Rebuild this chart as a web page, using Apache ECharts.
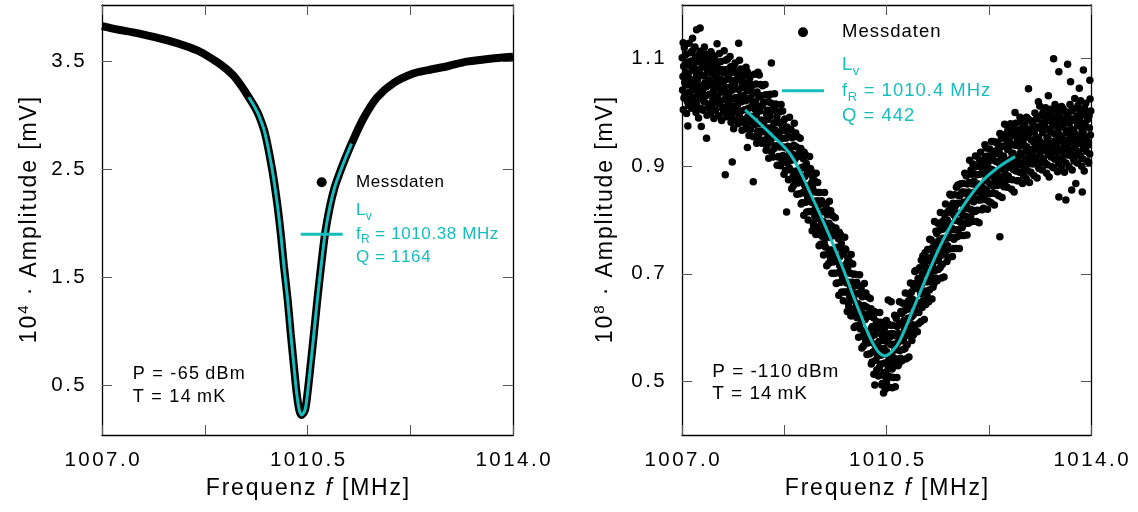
<!DOCTYPE html>
<html><head><meta charset="utf-8">
<script src="https://cdn.jsdelivr.net/npm/echarts@6/dist/echarts.min.js"></script>
<style>html,body{margin:0;padding:0;background:#fff}#c{width:1138px;height:512px}</style>
</head><body><div id="c"></div>
<script>
// ---------- data ----------
const xRange = [1007.0, 1014.0];
const xLabelValues = [1007.0, 1010.5, 1014.0];
const xTickValues = [1007.0, 1008.75, 1010.5, 1012.25, 1014.0];
const yLeftRange = [0.036, 4.026];
const yLeftTicks = [0.5, 1.5, 2.5, 3.5];
const yRightRange = [0.4, 1.2];
const yRightTicks = [0.5, 0.7, 0.9, 1.1];

const leftData = [[1007.00,3.83],[1007.25,3.80],[1007.53,3.772],[1007.80,3.74],[1008.10,3.70],[1008.40,3.65],[1008.67,3.592],[1008.95,3.50],[1009.10,3.44],[1009.24,3.37],[1009.38,3.27],[1009.50,3.17],[1009.60,3.08],[1009.68,2.99],[1009.776,2.835],[1009.89,2.525],[1009.976,2.216],[1010.044,1.907],[1010.10,1.597],[1010.163,1.288],[1010.214,0.98],[1010.27,0.67],[1010.316,0.423],[1010.36,0.268],[1010.40,0.222],[1010.458,0.268],[1010.50,0.423],[1010.55,0.67],[1010.61,0.98],[1010.667,1.288],[1010.73,1.597],[1010.80,1.907],[1010.88,2.15],[1010.96,2.33],[1011.05,2.47],[1011.15,2.61],[1011.25,2.74],[1011.45,2.97],[1011.68,3.165],[1011.96,3.30],[1012.30,3.39],[1012.56,3.422],[1012.90,3.46],[1013.21,3.50],[1013.50,3.52],[1013.78,3.536],[1014.00,3.545]];

const leftFit = [[1009.50,3.17],[1009.60,3.08],[1009.68,2.99],[1009.776,2.835],[1009.89,2.525],[1009.976,2.216],[1010.044,1.907],[1010.10,1.597],[1010.163,1.288],[1010.214,0.98],[1010.27,0.67],[1010.316,0.423],[1010.36,0.268],[1010.40,0.222],[1010.458,0.268],[1010.50,0.423],[1010.55,0.67],[1010.61,0.98],[1010.667,1.288],[1010.73,1.597],[1010.80,1.907],[1010.88,2.15],[1010.96,2.33],[1011.05,2.47],[1011.15,2.61],[1011.25,2.74]];

const rightData = [
[1007.004,1.102],[1007.010,1.042],[1007.016,1.067],[1007.022,1.005],[1007.028,1.086],[1007.034,1.027],[1007.040,1.121],[1007.046,1.056],
[1007.054,1.033],[1007.060,1.075],[1007.066,1.108],[1007.072,1.051],[1007.078,0.998],[1007.084,1.093],[1007.090,1.062],[1007.096,1.020],
[1007.104,1.070],[1007.110,1.013],[1007.116,1.088],[1007.122,1.129],[1007.128,1.038],[1007.134,1.062],[1007.140,1.024],[1007.146,1.111],
[1007.154,1.051],[1007.160,1.096],[1007.166,1.008],[1007.172,1.078],[1007.178,1.115],[1007.184,1.029],[1007.190,1.045],[1007.196,1.083],
[1007.204,1.089],[1007.210,1.055],[1007.216,1.019],[1007.222,1.122],[1007.228,1.042],[1007.234,1.103],[1007.240,1.000],[1007.246,1.067],
[1007.254,1.013],[1007.260,1.079],[1007.266,1.062],[1007.272,1.032],[1007.278,1.095],[1007.284,0.990],[1007.290,1.107],[1007.296,1.046],
[1007.304,1.073],[1007.310,1.114],[1007.316,1.025],[1007.322,1.050],[1007.328,1.097],[1007.334,1.007],[1007.340,1.084],[1007.346,1.036],
[1007.354,1.041],[1007.360,1.004],[1007.366,1.091],[1007.372,1.068],[1007.378,1.020],[1007.384,1.122],[1007.390,1.055],[1007.396,1.100],
[1007.404,1.109],[1007.410,1.031],[1007.416,1.048],[1007.422,1.085],[1007.428,0.995],[1007.434,1.075],[1007.440,1.094],[1007.446,1.010],
[1007.454,1.016],[1007.460,1.061],[1007.466,1.099],[1007.472,1.034],[1007.478,1.078],[1007.484,1.051],[1007.490,0.999],[1007.496,1.113],
[1007.504,1.055],[1007.510,1.011],[1007.516,1.073],[1007.522,1.107],[1007.528,1.024],[1007.534,1.088],[1007.540,1.040],[1007.546,0.989],
[1007.554,1.078],[1007.560,1.100],[1007.566,1.029],[1007.572,1.004],[1007.578,1.064],[1007.584,1.046],[1007.590,1.085],[1007.596,1.019],
[1007.604,1.091],[1007.610,1.031],[1007.616,1.056],[1007.622,0.994],[1007.628,1.075],[1007.634,1.016],[1007.640,1.110],[1007.646,1.045],
[1007.654,1.020],[1007.660,1.062],[1007.666,1.095],[1007.672,1.038],[1007.678,0.985],[1007.684,1.080],[1007.690,1.049],[1007.696,1.007],
[1007.704,1.056],[1007.710,0.999],[1007.716,1.074],[1007.722,1.115],[1007.728,1.024],[1007.734,1.048],[1007.740,1.010],[1007.746,1.097],
[1007.754,1.035],[1007.760,1.080],[1007.766,0.992],[1007.772,1.062],[1007.778,1.099],[1007.784,1.013],[1007.790,1.029],[1007.796,1.067],
[1007.804,1.071],[1007.810,1.037],[1007.816,1.001],[1007.822,1.104],[1007.828,1.024],[1007.834,1.085],[1007.840,0.982],[1007.846,1.049],
[1007.854,0.993],[1007.860,1.059],[1007.866,1.042],[1007.872,1.012],[1007.878,1.075],[1007.884,0.970],[1007.890,1.087],[1007.896,1.026],
[1007.904,1.051],[1007.910,1.092],[1007.916,1.003],[1007.922,1.028],[1007.928,1.075],[1007.934,0.985],[1007.940,1.062],[1007.946,1.014],
[1007.954,1.016],[1007.960,0.979],[1007.966,1.066],[1007.972,1.043],[1007.978,0.995],[1007.984,1.097],[1007.990,1.030],[1007.996,1.075],
[1008.004,1.081],[1008.010,1.003],[1008.016,1.020],[1008.022,1.057],[1008.028,0.967],[1008.034,1.047],[1008.040,1.066],[1008.046,0.982],
[1008.054,0.987],[1008.060,1.032],[1008.066,1.070],[1008.072,1.005],[1008.078,1.049],[1008.084,1.022],[1008.090,0.970],[1008.096,1.084],
[1008.104,1.023],[1008.110,0.979],[1008.116,1.041],[1008.122,1.075],[1008.128,0.992],[1008.134,1.056],[1008.140,1.008],[1008.146,0.957],
[1008.154,1.042],[1008.160,1.064],[1008.166,0.993],[1008.172,0.968],[1008.178,1.028],[1008.184,1.010],[1008.190,1.049],[1008.196,0.983],
[1008.204,1.052],[1008.210,0.992],[1008.216,1.017],[1008.222,0.955],[1008.228,1.036],[1008.234,0.977],[1008.240,1.071],[1008.246,1.006],
[1008.254,0.978],[1008.260,1.020],[1008.266,1.053],[1008.272,0.996],[1008.278,0.943],[1008.284,1.038],[1008.290,1.007],[1008.296,0.965],
[1008.304,1.011],[1008.310,0.954],[1008.316,1.029],[1008.322,1.070],[1008.328,0.979],[1008.334,1.003],[1008.340,0.965],[1008.346,1.052],
[1008.354,0.986],[1008.360,1.031],[1008.366,0.943],[1008.372,1.013],[1008.378,1.050],[1008.384,0.964],[1008.390,0.980],[1008.396,1.018],
[1008.404,1.019],[1008.410,0.985],[1008.416,0.949],[1008.422,1.052],[1008.428,0.972],[1008.434,1.033],[1008.440,0.930],[1008.446,0.997],
[1008.454,0.938],[1008.460,1.004],[1008.466,0.987],[1008.472,0.957],[1008.478,1.020],[1008.484,0.915],[1008.490,1.032],[1008.496,0.971],
[1008.504,0.993],[1008.510,1.034],[1008.516,0.945],[1008.522,0.970],[1008.528,1.017],[1008.534,0.927],[1008.540,1.004],[1008.546,0.956],
[1008.554,0.954],[1008.560,0.917],[1008.566,1.004],[1008.572,0.981],[1008.578,0.933],[1008.584,1.035],[1008.590,0.968],[1008.596,1.013],
[1008.604,1.016],[1008.610,0.938],[1008.616,0.955],[1008.622,0.992],[1008.628,0.902],[1008.634,0.982],[1008.640,1.001],[1008.646,0.917],
[1008.654,0.918],[1008.660,0.963],[1008.666,1.001],[1008.672,0.936],[1008.678,0.980],[1008.684,0.953],[1008.690,0.901],[1008.696,1.015],
[1008.704,0.951],[1008.710,0.907],[1008.716,0.969],[1008.722,1.003],[1008.728,0.920],[1008.734,0.984],[1008.740,0.936],[1008.746,0.885],
[1008.754,0.966],[1008.760,0.988],[1008.766,0.917],[1008.772,0.892],[1008.778,0.952],[1008.784,0.934],[1008.790,0.973],[1008.796,0.907],
[1008.804,0.972],[1008.810,0.912],[1008.816,0.937],[1008.822,0.875],[1008.828,0.956],[1008.834,0.897],[1008.840,0.991],[1008.846,0.926],
[1008.854,0.893],[1008.860,0.935],[1008.866,0.968],[1008.872,0.911],[1008.878,0.858],[1008.884,0.953],[1008.890,0.922],[1008.896,0.880],
[1008.904,0.921],[1008.910,0.864],[1008.916,0.939],[1008.922,0.980],[1008.928,0.889],[1008.934,0.913],[1008.940,0.875],[1008.946,0.962],
[1008.954,0.891],[1008.960,0.936],[1008.966,0.848],[1008.972,0.918],[1008.978,0.955],[1008.984,0.869],[1008.990,0.885],[1008.996,0.923],
[1009.004,0.919],[1009.010,0.885],[1009.016,0.849],[1009.022,0.952],[1009.028,0.872],[1009.034,0.933],[1009.040,0.830],[1009.046,0.897],
[1009.054,0.832],[1009.060,0.898],[1009.066,0.881],[1009.072,0.851],[1009.078,0.914],[1009.084,0.809],[1009.090,0.926],[1009.096,0.865],
[1009.104,0.881],[1009.110,0.922],[1009.116,0.833],[1009.122,0.858],[1009.128,0.905],[1009.134,0.815],[1009.140,0.892],[1009.146,0.844],
[1009.154,0.837],[1009.160,0.800],[1009.166,0.887],[1009.172,0.864],[1009.178,0.816],[1009.184,0.918],[1009.190,0.851],[1009.196,0.896],
[1009.204,0.894],[1009.210,0.816],[1009.216,0.833],[1009.222,0.870],[1009.228,0.780],[1009.234,0.860],[1009.240,0.879],[1009.246,0.795],
[1009.254,0.790],[1009.260,0.835],[1009.266,0.873],[1009.272,0.808],[1009.278,0.852],[1009.284,0.825],[1009.290,0.773],[1009.296,0.887],
[1009.304,0.818],[1009.310,0.774],[1009.316,0.836],[1009.322,0.870],[1009.328,0.787],[1009.334,0.851],[1009.340,0.803],[1009.346,0.752],
[1009.354,0.829],[1009.360,0.851],[1009.366,0.780],[1009.372,0.755],[1009.378,0.815],[1009.384,0.797],[1009.390,0.836],[1009.396,0.770],
[1009.404,0.832],[1009.410,0.772],[1009.416,0.797],[1009.422,0.735],[1009.428,0.816],[1009.434,0.757],[1009.440,0.851],[1009.446,0.786],
[1009.454,0.750],[1009.460,0.792],[1009.466,0.825],[1009.472,0.768],[1009.478,0.715],[1009.484,0.810],[1009.490,0.779],[1009.496,0.737],
[1009.504,0.776],[1009.510,0.719],[1009.516,0.794],[1009.522,0.835],[1009.528,0.744],[1009.534,0.768],[1009.540,0.730],[1009.546,0.817],
[1009.554,0.744],[1009.560,0.789],[1009.566,0.701],[1009.572,0.771],[1009.578,0.808],[1009.584,0.722],[1009.590,0.738],[1009.596,0.776],
[1009.604,0.771],[1009.610,0.737],[1009.616,0.701],[1009.622,0.804],[1009.628,0.724],[1009.634,0.785],[1009.640,0.682],[1009.646,0.749],
[1009.654,0.683],[1009.660,0.749],[1009.666,0.732],[1009.672,0.702],[1009.678,0.765],[1009.684,0.660],[1009.690,0.777],[1009.696,0.716],
[1009.704,0.732],[1009.710,0.773],[1009.716,0.684],[1009.722,0.709],[1009.728,0.756],[1009.734,0.666],[1009.740,0.743],[1009.746,0.695],
[1009.754,0.687],[1009.760,0.650],[1009.766,0.737],[1009.772,0.714],[1009.778,0.666],[1009.784,0.768],[1009.790,0.701],[1009.796,0.746],
[1009.804,0.744],[1009.810,0.666],[1009.816,0.683],[1009.822,0.720],[1009.828,0.630],[1009.834,0.710],[1009.840,0.729],[1009.846,0.645],
[1009.854,0.639],[1009.860,0.684],[1009.866,0.722],[1009.872,0.657],[1009.878,0.701],[1009.884,0.674],[1009.890,0.622],[1009.896,0.736],
[1009.904,0.666],[1009.910,0.622],[1009.916,0.684],[1009.922,0.718],[1009.928,0.635],[1009.934,0.699],[1009.940,0.651],[1009.946,0.600],
[1009.954,0.677],[1009.960,0.699],[1009.966,0.628],[1009.972,0.603],[1009.978,0.663],[1009.984,0.645],[1009.990,0.684],[1009.996,0.618],
[1010.004,0.679],[1010.010,0.619],[1010.016,0.644],[1010.022,0.582],[1010.028,0.663],[1010.034,0.604],[1010.040,0.698],[1010.046,0.633],
[1010.054,0.597],[1010.060,0.639],[1010.066,0.672],[1010.072,0.615],[1010.078,0.562],[1010.084,0.657],[1010.090,0.626],[1010.096,0.584],
[1010.104,0.623],[1010.110,0.566],[1010.116,0.641],[1010.122,0.682],[1010.128,0.591],[1010.134,0.615],[1010.140,0.577],[1010.146,0.664],
[1010.154,0.593],[1010.160,0.638],[1010.166,0.550],[1010.172,0.620],[1010.178,0.657],[1010.184,0.571],[1010.190,0.587],[1010.196,0.625],
[1010.204,0.621],[1010.210,0.587],[1010.216,0.551],[1010.222,0.654],[1010.228,0.574],[1010.234,0.635],[1010.240,0.532],[1010.246,0.599],
[1010.254,0.536],[1010.260,0.602],[1010.266,0.585],[1010.272,0.555],[1010.278,0.618],[1010.284,0.513],[1010.290,0.630],[1010.296,0.569],
[1010.304,0.587],[1010.310,0.628],[1010.316,0.539],[1010.322,0.564],[1010.328,0.611],[1010.334,0.521],[1010.340,0.598],[1010.346,0.550],
[1010.354,0.547],[1010.360,0.510],[1010.366,0.597],[1010.372,0.574],[1010.378,0.526],[1010.384,0.628],[1010.390,0.561],[1010.396,0.606],
[1010.404,0.610],[1010.410,0.532],[1010.416,0.549],[1010.422,0.586],[1010.428,0.496],[1010.434,0.576],[1010.440,0.595],[1010.446,0.511],
[1010.454,0.516],[1010.460,0.561],[1010.466,0.599],[1010.472,0.534],[1010.478,0.578],[1010.484,0.551],[1010.490,0.499],[1010.496,0.613],
[1010.504,0.555],[1010.510,0.511],[1010.516,0.573],[1010.522,0.607],[1010.528,0.524],[1010.534,0.588],[1010.540,0.540],[1010.546,0.489],
[1010.554,0.582],[1010.560,0.604],[1010.566,0.533],[1010.572,0.508],[1010.578,0.568],[1010.584,0.550],[1010.590,0.589],[1010.596,0.523],
[1010.604,0.604],[1010.610,0.544],[1010.616,0.569],[1010.622,0.507],[1010.628,0.588],[1010.634,0.529],[1010.640,0.623],[1010.646,0.558],
[1010.654,0.542],[1010.660,0.584],[1010.666,0.617],[1010.672,0.560],[1010.678,0.507],[1010.684,0.602],[1010.690,0.571],[1010.696,0.529],
[1010.704,0.589],[1010.710,0.532],[1010.716,0.607],[1010.722,0.648],[1010.728,0.557],[1010.734,0.581],[1010.740,0.543],[1010.746,0.630],
[1010.754,0.581],[1010.760,0.626],[1010.766,0.538],[1010.772,0.608],[1010.778,0.645],[1010.784,0.559],[1010.790,0.575],[1010.796,0.613],
[1010.804,0.631],[1010.810,0.597],[1010.816,0.561],[1010.822,0.664],[1010.828,0.584],[1010.834,0.645],[1010.840,0.542],[1010.846,0.609],
[1010.854,0.568],[1010.860,0.634],[1010.866,0.617],[1010.872,0.587],[1010.878,0.650],[1010.884,0.545],[1010.890,0.662],[1010.896,0.601],
[1010.904,0.642],[1010.910,0.683],[1010.916,0.594],[1010.922,0.619],[1010.928,0.666],[1010.934,0.576],[1010.940,0.653],[1010.946,0.605],
[1010.954,0.623],[1010.960,0.586],[1010.966,0.673],[1010.972,0.650],[1010.978,0.602],[1010.984,0.704],[1010.990,0.637],[1010.996,0.682],
[1011.004,0.706],[1011.010,0.628],[1011.016,0.645],[1011.022,0.682],[1011.028,0.592],[1011.034,0.672],[1011.040,0.691],[1011.046,0.607],
[1011.054,0.628],[1011.060,0.673],[1011.066,0.711],[1011.072,0.646],[1011.078,0.690],[1011.084,0.663],[1011.090,0.611],[1011.096,0.725],
[1011.104,0.681],[1011.110,0.637],[1011.116,0.699],[1011.122,0.733],[1011.128,0.650],[1011.134,0.714],[1011.140,0.666],[1011.146,0.615],
[1011.154,0.717],[1011.160,0.739],[1011.166,0.668],[1011.172,0.643],[1011.178,0.703],[1011.184,0.685],[1011.190,0.724],[1011.196,0.658],
[1011.204,0.745],[1011.210,0.685],[1011.216,0.710],[1011.222,0.648],[1011.228,0.729],[1011.234,0.670],[1011.240,0.764],[1011.246,0.699],
[1011.254,0.688],[1011.260,0.730],[1011.266,0.763],[1011.272,0.706],[1011.278,0.653],[1011.284,0.748],[1011.290,0.717],[1011.296,0.675],
[1011.304,0.738],[1011.310,0.681],[1011.316,0.756],[1011.322,0.797],[1011.328,0.706],[1011.334,0.730],[1011.340,0.692],[1011.346,0.779],
[1011.354,0.730],[1011.360,0.775],[1011.366,0.687],[1011.372,0.757],[1011.378,0.794],[1011.384,0.708],[1011.390,0.724],[1011.396,0.762],
[1011.404,0.781],[1011.410,0.747],[1011.416,0.711],[1011.422,0.814],[1011.428,0.734],[1011.434,0.795],[1011.440,0.692],[1011.446,0.759],
[1011.454,0.717],[1011.460,0.783],[1011.466,0.766],[1011.472,0.736],[1011.478,0.799],[1011.484,0.694],[1011.490,0.811],[1011.496,0.750],
[1011.504,0.789],[1011.510,0.830],[1011.516,0.741],[1011.522,0.766],[1011.528,0.813],[1011.534,0.723],[1011.540,0.800],[1011.546,0.752],
[1011.554,0.767],[1011.560,0.730],[1011.566,0.817],[1011.572,0.794],[1011.578,0.746],[1011.584,0.848],[1011.590,0.781],[1011.596,0.826],
[1011.604,0.846],[1011.610,0.768],[1011.616,0.785],[1011.622,0.822],[1011.628,0.732],[1011.634,0.812],[1011.640,0.831],[1011.646,0.747],
[1011.654,0.764],[1011.660,0.809],[1011.666,0.847],[1011.672,0.782],[1011.678,0.826],[1011.684,0.799],[1011.690,0.747],[1011.696,0.861],
[1011.704,0.813],[1011.710,0.769],[1011.716,0.831],[1011.722,0.865],[1011.728,0.782],[1011.734,0.846],[1011.740,0.798],[1011.746,0.747],
[1011.754,0.845],[1011.760,0.867],[1011.766,0.796],[1011.772,0.771],[1011.778,0.831],[1011.784,0.813],[1011.790,0.852],[1011.796,0.786],
[1011.804,0.868],[1011.810,0.808],[1011.816,0.833],[1011.822,0.771],[1011.828,0.852],[1011.834,0.793],[1011.840,0.887],[1011.846,0.822],
[1011.854,0.807],[1011.860,0.849],[1011.866,0.882],[1011.872,0.825],[1011.878,0.772],[1011.884,0.867],[1011.890,0.836],[1011.896,0.794],
[1011.904,0.852],[1011.910,0.795],[1011.916,0.870],[1011.922,0.911],[1011.928,0.820],[1011.934,0.844],[1011.940,0.806],[1011.946,0.893],
[1011.954,0.840],[1011.960,0.885],[1011.966,0.797],[1011.972,0.867],[1011.978,0.904],[1011.984,0.818],[1011.990,0.834],[1011.996,0.872],
[1012.004,0.886],[1012.010,0.852],[1012.016,0.816],[1012.022,0.919],[1012.028,0.839],[1012.034,0.900],[1012.040,0.797],[1012.046,0.864],
[1012.054,0.818],[1012.060,0.884],[1012.066,0.867],[1012.072,0.837],[1012.078,0.900],[1012.084,0.795],[1012.090,0.912],[1012.096,0.851],
[1012.104,0.885],[1012.110,0.926],[1012.116,0.837],[1012.122,0.862],[1012.128,0.909],[1012.134,0.819],[1012.140,0.896],[1012.146,0.848],
[1012.154,0.859],[1012.160,0.822],[1012.166,0.909],[1012.172,0.886],[1012.178,0.838],[1012.184,0.940],[1012.190,0.873],[1012.196,0.918],
[1012.204,0.934],[1012.210,0.856],[1012.216,0.873],[1012.222,0.910],[1012.228,0.820],[1012.234,0.900],[1012.240,0.919],[1012.246,0.835],
[1012.254,0.849],[1012.260,0.894],[1012.266,0.932],[1012.272,0.867],[1012.278,0.911],[1012.284,0.884],[1012.290,0.832],[1012.296,0.946],
[1012.304,0.894],[1012.310,0.850],[1012.316,0.912],[1012.322,0.946],[1012.328,0.863],[1012.334,0.927],[1012.340,0.879],[1012.346,0.828],
[1012.354,0.923],[1012.360,0.945],[1012.366,0.874],[1012.372,0.849],[1012.378,0.909],[1012.384,0.891],[1012.390,0.930],[1012.396,0.864],
[1012.404,0.942],[1012.410,0.882],[1012.416,0.907],[1012.422,0.845],[1012.428,0.926],[1012.434,0.867],[1012.440,0.961],[1012.446,0.896],
[1012.454,0.877],[1012.460,0.919],[1012.466,0.952],[1012.472,0.895],[1012.478,0.842],[1012.484,0.937],[1012.490,0.906],[1012.496,0.864],
[1012.504,0.919],[1012.510,0.862],[1012.516,0.937],[1012.522,0.978],[1012.528,0.887],[1012.534,0.911],[1012.540,0.873],[1012.546,0.960],
[1012.554,0.904],[1012.560,0.949],[1012.566,0.861],[1012.572,0.931],[1012.578,0.968],[1012.584,0.882],[1012.590,0.898],[1012.596,0.936],
[1012.604,0.946],[1012.610,0.912],[1012.616,0.876],[1012.622,0.979],[1012.628,0.899],[1012.634,0.960],[1012.640,0.857],[1012.646,0.924],
[1012.654,0.875],[1012.660,0.941],[1012.666,0.924],[1012.672,0.894],[1012.678,0.957],[1012.684,0.852],[1012.690,0.969],[1012.696,0.908],
[1012.704,0.939],[1012.710,0.980],[1012.716,0.891],[1012.722,0.916],[1012.728,0.963],[1012.734,0.873],[1012.740,0.950],[1012.746,0.902],
[1012.754,0.910],[1012.760,0.873],[1012.766,0.960],[1012.772,0.937],[1012.778,0.889],[1012.784,0.991],[1012.790,0.924],[1012.796,0.969],
[1012.804,0.982],[1012.810,0.904],[1012.816,0.921],[1012.822,0.958],[1012.828,0.868],[1012.834,0.948],[1012.840,0.967],[1012.846,0.883],
[1012.854,0.894],[1012.860,0.939],[1012.866,0.977],[1012.872,0.912],[1012.878,0.956],[1012.884,0.929],[1012.890,0.877],[1012.896,0.991],
[1012.904,0.936],[1012.910,0.892],[1012.916,0.954],[1012.922,0.988],[1012.928,0.905],[1012.934,0.969],[1012.940,0.921],[1012.946,0.870],
[1012.954,0.963],[1012.960,0.985],[1012.966,0.914],[1012.972,0.889],[1012.978,0.949],[1012.984,0.931],[1012.990,0.970],[1012.996,0.904],
[1013.004,0.980],[1013.010,0.920],[1013.016,0.945],[1013.022,0.883],[1013.028,0.964],[1013.034,0.905],[1013.040,0.999],[1013.046,0.934],
[1013.054,0.913],[1013.060,0.955],[1013.066,0.988],[1013.072,0.931],[1013.078,0.878],[1013.084,0.973],[1013.090,0.942],[1013.096,0.900],
[1013.104,0.953],[1013.110,0.896],[1013.116,0.971],[1013.122,1.012],[1013.128,0.921],[1013.134,0.945],[1013.140,0.907],[1013.146,0.994],
[1013.154,0.936],[1013.160,0.981],[1013.166,0.893],[1013.172,0.963],[1013.178,1.000],[1013.184,0.914],[1013.190,0.930],[1013.196,0.968],
[1013.204,0.976],[1013.210,0.942],[1013.216,0.906],[1013.222,1.009],[1013.228,0.929],[1013.234,0.990],[1013.240,0.887],[1013.246,0.954],
[1013.254,0.903],[1013.260,0.969],[1013.266,0.952],[1013.272,0.922],[1013.278,0.985],[1013.284,0.880],[1013.290,0.997],[1013.296,0.936],
[1013.304,0.965],[1013.310,1.006],[1013.316,0.917],[1013.322,0.942],[1013.328,0.989],[1013.334,0.899],[1013.340,0.976],[1013.346,0.928],
[1013.354,0.934],[1013.360,0.897],[1013.366,0.984],[1013.372,0.961],[1013.378,0.913],[1013.384,1.015],[1013.390,0.948],[1013.396,0.993],
[1013.404,1.004],[1013.410,0.926],[1013.416,0.943],[1013.422,0.980],[1013.428,0.890],[1013.434,0.970],[1013.440,0.989],[1013.446,0.905],
[1013.454,0.914],[1013.460,0.959],[1013.466,0.997],[1013.472,0.932],[1013.478,0.976],[1013.484,0.949],[1013.490,0.897],[1013.496,1.011],
[1013.504,0.955],[1013.510,0.911],[1013.516,0.973],[1013.522,1.007],[1013.528,0.924],[1013.534,0.988],[1013.540,0.940],[1013.546,0.889],
[1013.554,0.980],[1013.560,1.002],[1013.566,0.931],[1013.572,0.906],[1013.578,0.966],[1013.584,0.948],[1013.590,0.987],[1013.596,0.921],
[1013.604,0.996],[1013.610,0.936],[1013.616,0.961],[1013.622,0.899],[1013.628,0.980],[1013.634,0.921],[1013.640,1.015],[1013.646,0.950],
[1013.654,0.928],[1013.660,0.970],[1013.666,1.003],[1013.672,0.946],[1013.678,0.893],[1013.684,0.988],[1013.690,0.957],[1013.696,0.915],
[1013.704,0.967],[1013.710,0.910],[1013.716,0.985],[1013.722,1.026],[1013.728,0.935],[1013.734,0.959],[1013.740,0.921],[1013.746,1.008],
[1013.754,0.949],[1013.760,0.994],[1013.766,0.906],[1013.772,0.976],[1013.778,1.013],[1013.784,0.927],[1013.790,0.943],[1013.796,0.981],
[1013.804,0.989],[1013.810,0.955],[1013.816,0.919],[1013.822,1.022],[1013.828,0.942],[1013.834,1.003],[1013.840,0.900],[1013.846,0.967],
[1013.854,0.914],[1013.860,0.980],[1013.866,0.963],[1013.872,0.933],[1013.878,0.996],[1013.884,0.891],[1013.890,1.008],[1013.896,0.947],
[1013.904,0.976],[1013.910,1.017],[1013.916,0.928],[1013.922,0.953],[1013.928,1.000],[1013.934,0.910],[1013.940,0.987],[1013.946,0.939],
[1013.954,0.944],[1013.960,0.907],[1013.966,0.994],[1013.972,0.971],[1013.978,0.923],[1013.984,1.025],[1013.990,0.958],[1013.996,1.003],
[1007.25,1.154],[1007.31,1.157],[1007.97,1.129],[1008.53,1.092],[1007.74,0.884],[1008.22,0.871],[1007.86,0.908],[1007.42,0.952],
[1007.33,0.974],[1007.02,1.130],[1007.18,1.138],[1007.60,1.128],[1007.10,0.975],[1008.30,1.075],[1008.12,0.935],[1008.79,0.815],
[1010.30,0.493],[1010.42,0.493],[1010.50,0.500],[1010.48,0.485],[1010.60,0.488],[1010.65,0.490],[1010.52,0.510],[1010.45,0.478],
[1010.53,0.651],[1010.58,0.648],[1012.44,0.769],[1013.67,0.856],
[1013.36,1.100],[1013.60,1.090],[1013.87,1.079],[1013.45,1.076],[1013.65,1.057],[1012.93,1.044],[1013.27,1.031],[1013.10,1.020],
[1013.57,0.837],[1013.74,0.868],[1013.85,0.852],[1013.45,0.843],[1013.98,1.060],[1013.80,1.045],[1012.70,1.000]
];

const rightFit = [[1008.08,1.005],[1008.50,0.962],[1008.88,0.918],[1009.25,0.837],[1009.43,0.794],[1009.70,0.725],[1010.05,0.626],[1010.30,0.564],[1010.47,0.547],[1010.60,0.556],[1010.73,0.576],[1011.02,0.651],[1011.36,0.738],[1011.62,0.794],[1011.76,0.818],[1012.10,0.868],[1012.40,0.897],[1012.70,0.918]];

const xName = ['Frequenz ', 'f', ' [MHz]'];
const yName = ['10', ' · Amplitude [mV]'];
const legendLeft = ['L', 'v', 'f', 'R', ' = 1010.38 MHz', 'Q = 1164'];
const legendRight = ['L', 'v', 'f', 'R', ' = 1010.4 MHz', 'Q = 442'];
const condLeft = 'P = -65\u2009dBm\nT = 14\u2009mK';
const condRight = 'P = -110\u2009dBm\nT = 14\u2009mK';

// ---------- styling ----------
const FONT = 'Liberation Sans, Arial, Helvetica, sans-serif';
const CYAN = '#17bcbd';
// wrap each character in a rich token so that letter spacing can be applied
function tr(str, style) {
  return str.split('').map(ch => ch === '\n' ? '\n' : '{' + style + '|' + ch + '}').join('');
}
function trStyle(fs, track, color, extra) {
  return Object.assign({fontSize: fs, fontFamily: FONT, color: color || '#000', padding: [0, track / 2, 0, track / 2]}, extra || {});
}
const chart = echarts.init(document.getElementById('c'), null, {renderer: 'canvas'});

function xAxes(g) {
  const common = {gridIndex: g, type: 'value', min: xRange[0], max: xRange[1],
    axisLine: {show: true, onZero: false, lineStyle: {color: '#000', width: 1.3}},
    axisTick: {show: true, inside: true, length: 10, customValues: xTickValues, lineStyle: {color: '#555', width: 1}},
    splitLine: {show: false}};
  return [
    Object.assign({}, common, {position: 'bottom',
      axisLabel: {customValues: xLabelValues, formatter: v => tr(v.toFixed(1), 't'), margin: 15,
        rich: {t: trStyle(20.5, 2.5)}},
      name: tr(xName[0], 'n') + '{i|' + xName[1] + '}' + tr(xName[2], 'n'), nameLocation: 'middle', nameGap: 42,
      nameTextStyle: {rich: {n: trStyle(23, 1.8), i: trStyle(23, 1.8, '#000', {fontStyle: 'italic'})}}}),
    Object.assign({}, common, {position: 'top', axisLabel: {show: false}})
  ];
}
function yAxes(g, range, ticks, exp, gap) {
  const common = {gridIndex: g, type: 'value', min: range[0], max: range[1],
    axisLine: {show: true, onZero: false, lineStyle: {color: '#000', width: 1.3}},
    axisTick: {show: true, inside: true, length: 10, customValues: ticks, lineStyle: {color: '#555', width: 1}},
    splitLine: {show: false}};
  return [
    Object.assign({}, common, {position: 'left',
      axisLabel: {customValues: ticks, formatter: v => tr(v.toFixed(1), 't'), margin: 16,
        rich: {t: trStyle(20.5, 2.5)}},
      name: tr(yName[0], 'n') + '{s|' + exp + '}' + tr(yName[1], 'n'), nameLocation: 'middle', nameGap: gap, nameRotate: 90,
      nameTextStyle: {rich: {n: trStyle(23, 1.9, '#000', {lineHeight: 28}),
                             s: {fontSize: 15, lineHeight: 16, verticalAlign: 'top', fontFamily: FONT, color: '#000', padding: [0, 1, 0, 1]}}}}),
    Object.assign({}, common, {position: 'right', axisLabel: {show: false}})
  ];
}

function fitText(p) {
  return tr(p[0], 'c') + '{s|' + p[1] + '}\n' + tr(p[2], 'c') + '{s|' + p[3] + '}' + tr(p[4], 'c') + '\n' + tr(p[5], 'c');
}
function legendPair(dotLeft, dotTop, fitLeft, fitTop, fitName, parts, pad, fs, lh, track) {
  const richFit = {c: trStyle(fs, track, CYAN, {lineHeight: lh}),
                   s: {color: CYAN, fontSize: Math.round(fs * 0.72), lineHeight: Math.round(fs * 0.75), verticalAlign: 'bottom', fontFamily: FONT}};
  const richDot = {m: trStyle(fs, track, '#000', {lineHeight: lh})};
  return [
    {show: true, selectedMode: false, padding: 0, left: dotLeft, top: dotTop, itemWidth: 42, itemHeight: 10,
     itemStyle: {borderWidth: 0}, data: [{name: 'Messdaten', icon: 'circle'}],
     formatter: name => tr(name, 'm'),
     textStyle: {color: '#000', fontSize: fs, lineHeight: lh, fontFamily: FONT, padding: [0, 0, 0, pad], rich: richDot}},
    {show: true, selectedMode: false, padding: 0, left: fitLeft, top: fitTop, itemWidth: 42, itemHeight: 3,
     itemStyle: {borderWidth: 0}, data: [{name: fitName, icon: 'rect'}],
     formatter: () => fitText(parts),
     textStyle: {color: CYAN, fontSize: fs, lineHeight: lh, fontFamily: FONT, padding: [0, 0, 0, pad], rich: richFit}}
  ];
}

const option = {
  animation: false,
  backgroundColor: '#fff',
  grid: [
    {left: 102, top: 5, width: 411, height: 430},
    {left: 682, top: 5, width: 409, height: 430}
  ],
  xAxis: [...xAxes(0), ...xAxes(1)],
  yAxis: [...yAxes(0, yLeftRange, yLeftTicks, '4', 58), ...yAxes(1, yRightRange, yRightTicks, '8', 62)],
  legend: [
    ...legendPair(316.7, 170.5, 300.7, 199, 'fitL', legendLeft, 8, 17, 23.5, 0.6),
    ...legendPair(798, 19.5, 782, 52.5, 'fitR', legendRight, 12.5, 18.5, 25.5, 1.0)
  ],
  graphic: [
    {type: 'text', left: 132, top: 365, style: {text: tr(condLeft, 'p'), rich: {p: trStyle(18, 1.3, '#000', {lineHeight: 23.3})}}},
    {type: 'text', left: 711.7, top: 362, style: {text: tr(condRight, 'p'), rich: {p: trStyle(19, 1.0, '#000', {lineHeight: 22.5})}}}
  ],
  series: [
    {type: 'line', name: 'Messdaten', xAxisIndex: 0, yAxisIndex: 0, data: leftData, symbol: 'none', smooth: 0.3,
     color: '#000', lineStyle: {color: '#000', width: 8}, z: 2, silent: true},
    {type: 'line', name: 'fitL', xAxisIndex: 0, yAxisIndex: 0, data: leftFit, symbol: 'none', smooth: 0.3,
     color: CYAN, lineStyle: {color: CYAN, width: 3}, z: 3, silent: true},
    {type: 'scatter', name: 'Messdaten', xAxisIndex: 2, yAxisIndex: 2, data: rightData, symbolSize: 7.5,
     color: '#000', itemStyle: {color: '#000', opacity: 1}, z: 2, silent: true, large: false},
    {type: 'line', name: 'fitR', xAxisIndex: 2, yAxisIndex: 2, data: rightFit, symbol: 'none', smooth: 0.4,
     color: CYAN, lineStyle: {color: CYAN, width: 3}, z: 3, silent: true}
  ]
};
chart.setOption(option);
</script></body></html>
